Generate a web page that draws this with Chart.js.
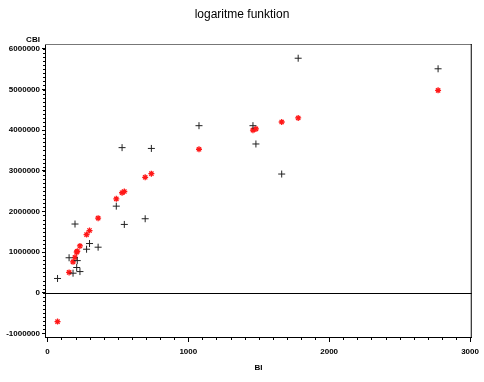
<!DOCTYPE html>
<html>
<head>
<meta charset="utf-8">
<script src="https://cdn.jsdelivr.net/npm/chart.js@4.4.0/dist/chart.umd.min.js"></script>
<style>
  html, body { margin: 0; padding: 0; background: #fff; }
  #wrap { width: 484px; height: 382px; }
</style>
</head>
<body>
<div id="wrap"><canvas id="chart" width="484" height="382"></canvas></div>
<script>
// values
const bi = [72, 154, 182, 196, 208, 212, 231, 278, 299, 360, 489, 530, 546, 694, 738, 1076, 1459, 1480, 1663, 1780, 2773];
const cbi = [350000, 860000, 480000, 1690000, 620000, 790000, 520000, 1070000, 1210000, 1120000, 2130000,
             3570000, 1680000, 1820000, 3550000, 4110000, 4110000, 3660000, 2920000, 5770000, 5510000];
const cbiLog = [-710000, 500000, 760000, 870000, 1000000, 1020000, 1150000, 1430000, 1530000, 1835000, 2310000,
                2460000, 2490000, 2840000, 2930000, 3530000, 4000000, 4030000, 4200000, 4300000, 4980000];

const xTicks = [0, 1000, 2000, 3000];
const yTicks = [-1000000, 0, 1000000, 2000000, 3000000, 4000000, 5000000, 6000000];
const xMinorStep = 100;
const yMinorStep = 100000;

const titleText = 'logaritme funktion';
const xLabel = 'BI';
const yLabel = 'CBI';

function pts(xs, ys) {
    return xs.map((x, i) => ({ x: x, y: ys[i] }));
}

// title, axis labels, frame, zero line and minor ticks
const decor = {
    id: 'decor',
    afterDraw(chart) {
        const ctx = chart.ctx;
        const a = chart.chartArea;
        const xs = chart.scales.x;
        const ys = chart.scales.y;
        ctx.save();

        ctx.fillStyle = '#000';
        ctx.textAlign = 'center';
        ctx.textBaseline = 'middle';
        ctx.font = '12px "Liberation Sans"';
        ctx.fillText(titleText, 242, 15);
        ctx.font = 'bold 8px "Liberation Sans"';
        ctx.fillText(yLabel, 33, 40);
        ctx.fillText(xLabel, (a.left + a.right) / 2, 368);

        // frame
        ctx.lineWidth = 1;
        ctx.strokeStyle = '#777';
        ctx.beginPath();
        ctx.moveTo(a.left, a.top + 0.5);
        ctx.lineTo(a.right, a.top + 0.5);
        ctx.stroke();
        ctx.strokeStyle = '#000';
        ctx.beginPath();
        ctx.moveTo(a.right - 0.5, a.top);
        ctx.lineTo(a.right - 0.5, a.bottom);
        ctx.stroke();

        // zero line
        const y0 = Math.round(ys.getPixelForValue(0)) + 0.5;
        ctx.beginPath();
        ctx.moveTo(a.left, y0);
        ctx.lineTo(a.right, y0);
        ctx.stroke();

        // minor ticks
        ctx.beginPath();
        for (let v = xTicks[0]; v <= xTicks[xTicks.length - 1]; v += xMinorStep) {
            const px = Math.round(xs.getPixelForValue(v)) + 0.5;
            ctx.moveTo(px, a.bottom);
            ctx.lineTo(px, a.bottom + 3);
        }
        for (let v = yTicks[0]; v <= yTicks[yTicks.length - 1]; v += yMinorStep) {
            const py = Math.round(ys.getPixelForValue(v)) + 0.5;
            ctx.moveTo(a.left, py);
            ctx.lineTo(a.left - 2, py);
        }
        ctx.stroke();
        ctx.restore();
    }
};

const tickFont = { family: 'Liberation Sans', size: 8, weight: 'bold' };

new Chart(document.getElementById('chart'), {
    type: 'scatter',
    data: {
        datasets: [
            {
                label: 'CBI',
                data: pts(bi, cbi),
                pointStyle: 'cross',
                pointRadius: 3.5,
                borderColor: '#222',
                borderWidth: 1,
                backgroundColor: '#222'
            },
            {
                label: 'log',
                data: pts(bi, cbiLog),
                pointStyle: 'star',
                pointRadius: 3,
                borderColor: '#ff1818',
                borderWidth: 1.3,
                backgroundColor: '#ff1818'
            }
        ]
    },
    options: {
        responsive: false,
        animation: false,
        layout: { padding: { top: 44, right: 9, left: 0, bottom: 0 } },
        plugins: {
            legend: { display: false },
            tooltip: { enabled: false },
            title: { display: false }
        },
        scales: {
            x: {
                type: 'linear',
                min: -17,
                max: 3012,
                afterBuildTicks: (s) => { s.ticks = xTicks.map(v => ({ value: v })); },
                afterFit: (s) => { s.height = 45; },
                ticks: {
                    font: tickFont, color: '#000', padding: 5, maxRotation: 0, autoSkip: false,
                    callback: (v) => String(v)
                },
                grid: { drawOnChartArea: false, drawTicks: true, tickLength: 5, color: '#000' },
                border: { color: '#000', width: 1 }
            },
            y: {
                type: 'linear',
                min: -1090000,
                max: 6120000,
                afterBuildTicks: (s) => { s.ticks = yTicks.map(v => ({ value: v })); },
                afterFit: (s) => { s.width = 45; },
                ticks: {
                    font: tickFont, color: '#000', padding: 2, autoSkip: false,
                    callback: (v) => String(v)
                },
                grid: { drawOnChartArea: false, drawTicks: true, tickLength: 3, color: '#000' },
                border: { color: '#000', width: 1 }
            }
        }
    },
    plugins: [decor]
});
</script>
</body>
</html>
